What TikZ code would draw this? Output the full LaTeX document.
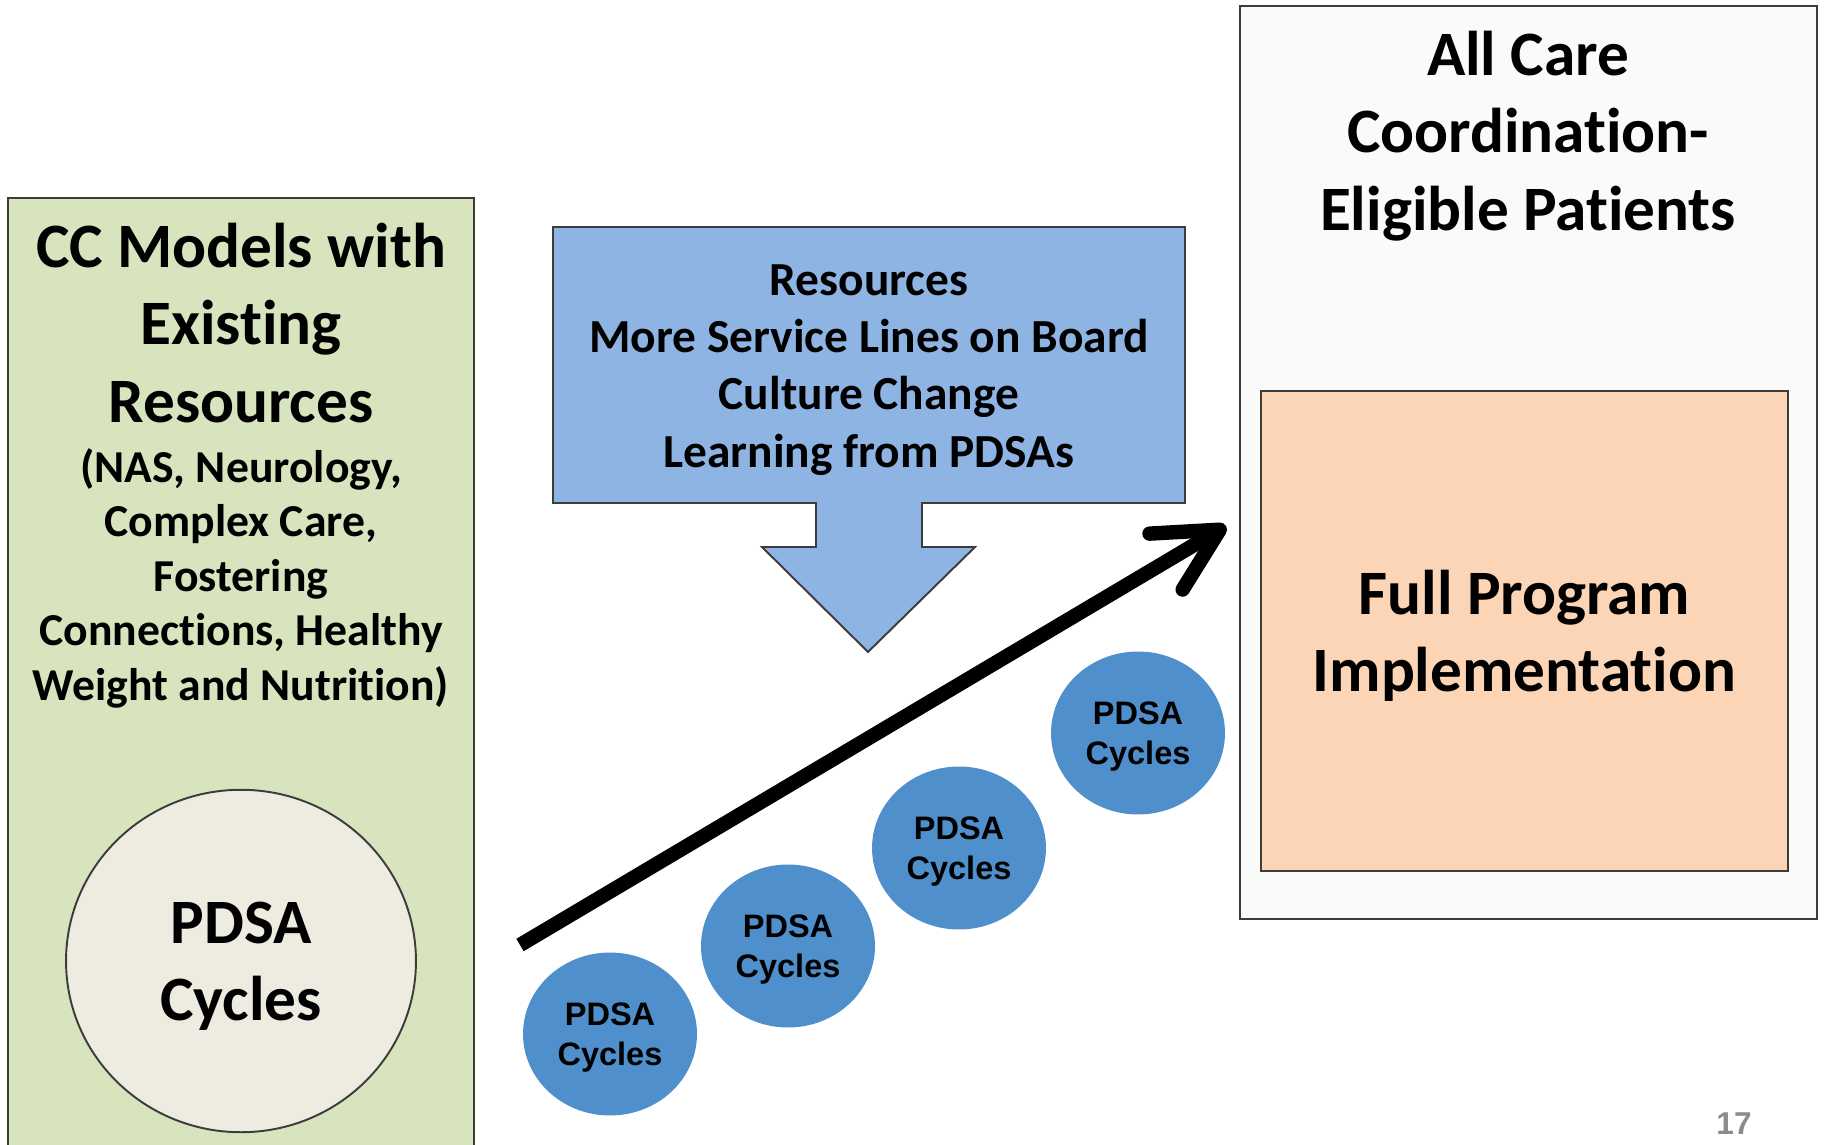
\documentclass[tikz,border=0pt]{standalone}
\usepackage{fontspec}
\setmainfont{Carlito}[Ligatures={NoCommon}]
\newfontfamily\arialfont{Liberation Sans}
\usepackage{tikz}
\usetikzlibrary{shapes.geometric}
\usetikzlibrary{arrows.meta}
\definecolor{greenfill}{HTML}{D7E4BD}
\definecolor{circlefill}{HTML}{EEECE1}
\definecolor{bluefill}{HTML}{8EB4E3}
\definecolor{pdsafill}{HTML}{4F8FCC}
\definecolor{orangefill}{HTML}{FBD5B5}
\definecolor{outerfill}{HTML}{FAFAF8}
\definecolor{edgegray}{HTML}{3C3C3C}
\definecolor{pagegray}{HTML}{8C8C8C}

\begin{document}
\begin{tikzpicture}[x=0.02cm, y=-0.02cm,
		panel/.style={draw=edgegray, line width=1.1pt, inner sep=0pt},
		bigtext/.style={font=\bfseries\fontsize{36}{44}\selectfont, align=center},
		smalltext/.style={font=\bfseries\fontsize{26}{31}\selectfont, align=center},
		pdsa/.style={ellipse, fill=pdsafill, minimum width=3.48cm, minimum height=3.26cm, inner sep=0pt, text depth=0pt,
			font=\arialfont\bfseries\fontsize{18.5}{22.5}\selectfont, align=center}]
		\useasboundingbox (0, 0) rectangle (1825, 1145);
		% Boxes and circles:
		\node[panel, fill=greenfill, minimum width=9.32cm, minimum height=19.24cm] (ccbox) at (241, 679){};
		\node[bigtext] (cctitle) at (241, 323){CC Models with\\Existing\\Resources};
		\node[smalltext] (cclist) at (241, 578){(NAS, Neurology,\\Complex Care,\\Fostering\\Connections, Healthy\\Weight and Nutrition)};
		\node[ellipse, panel, fill=circlefill, minimum width=7cm, minimum height=6.85cm, bigtext, text depth=0pt] (pdsabig) at (241, 961){PDSA\\Cycles};
		\node[panel, fill=outerfill, minimum width=11.54cm, minimum height=18.26cm] (allbox) at (1528.5, 462.5){};
		\node[bigtext] (alltitle) at (1528, 136){All Care\\Coordination-\\Eligible Patients};
		\node[panel, fill=orangefill, minimum width=10.54cm, minimum height=9.6cm, bigtext, text depth=0pt] (fullbox) at (1524.5, 631){Full Program\\Implementation};
		% Resources callout:
		\draw[draw=edgegray, line width=1.1pt, fill=bluefill] (553, 227) -- (1185, 227) -- (1185, 503) -- (922, 503) -- (922, 547)
			-- (975, 547) -- (868, 652) -- (762, 547) -- (816, 547) -- (816, 503) -- (553, 503) -- cycle;
		\node[font=\bfseries\fontsize{27}{32.5}\selectfont, align=center] (restext) at (869, 370){Resources\\More Service Lines on Board\\Culture Change\\Learning from PDSAs};
		% Small PDSA cycles:
		\node[pdsa] (pdsaa) at (610, 1034){PDSA\\Cycles};
		\node[pdsa] (pdsab) at (788, 946){PDSA\\Cycles};
		\node[pdsa] (pdsac) at (959, 848){PDSA\\Cycles};
		\node[pdsa] (pdsad) at (1138, 733){PDSA\\Cycles};
		% Growth arrow:
		\coordinate (growstart) at (520, 945);
		\coordinate (growtip) at (1226, 526);
		\draw[line width=8.2pt, -{Straight Barb[length=1.25cm, width=1.3cm, round]}] (growstart) -- (growtip);
		\node[font=\arialfont\bfseries\fontsize{18}{20}\selectfont, text=pagegray] (pagenum) at (1734, 1124){17};
	\end{tikzpicture}
\end{document}
